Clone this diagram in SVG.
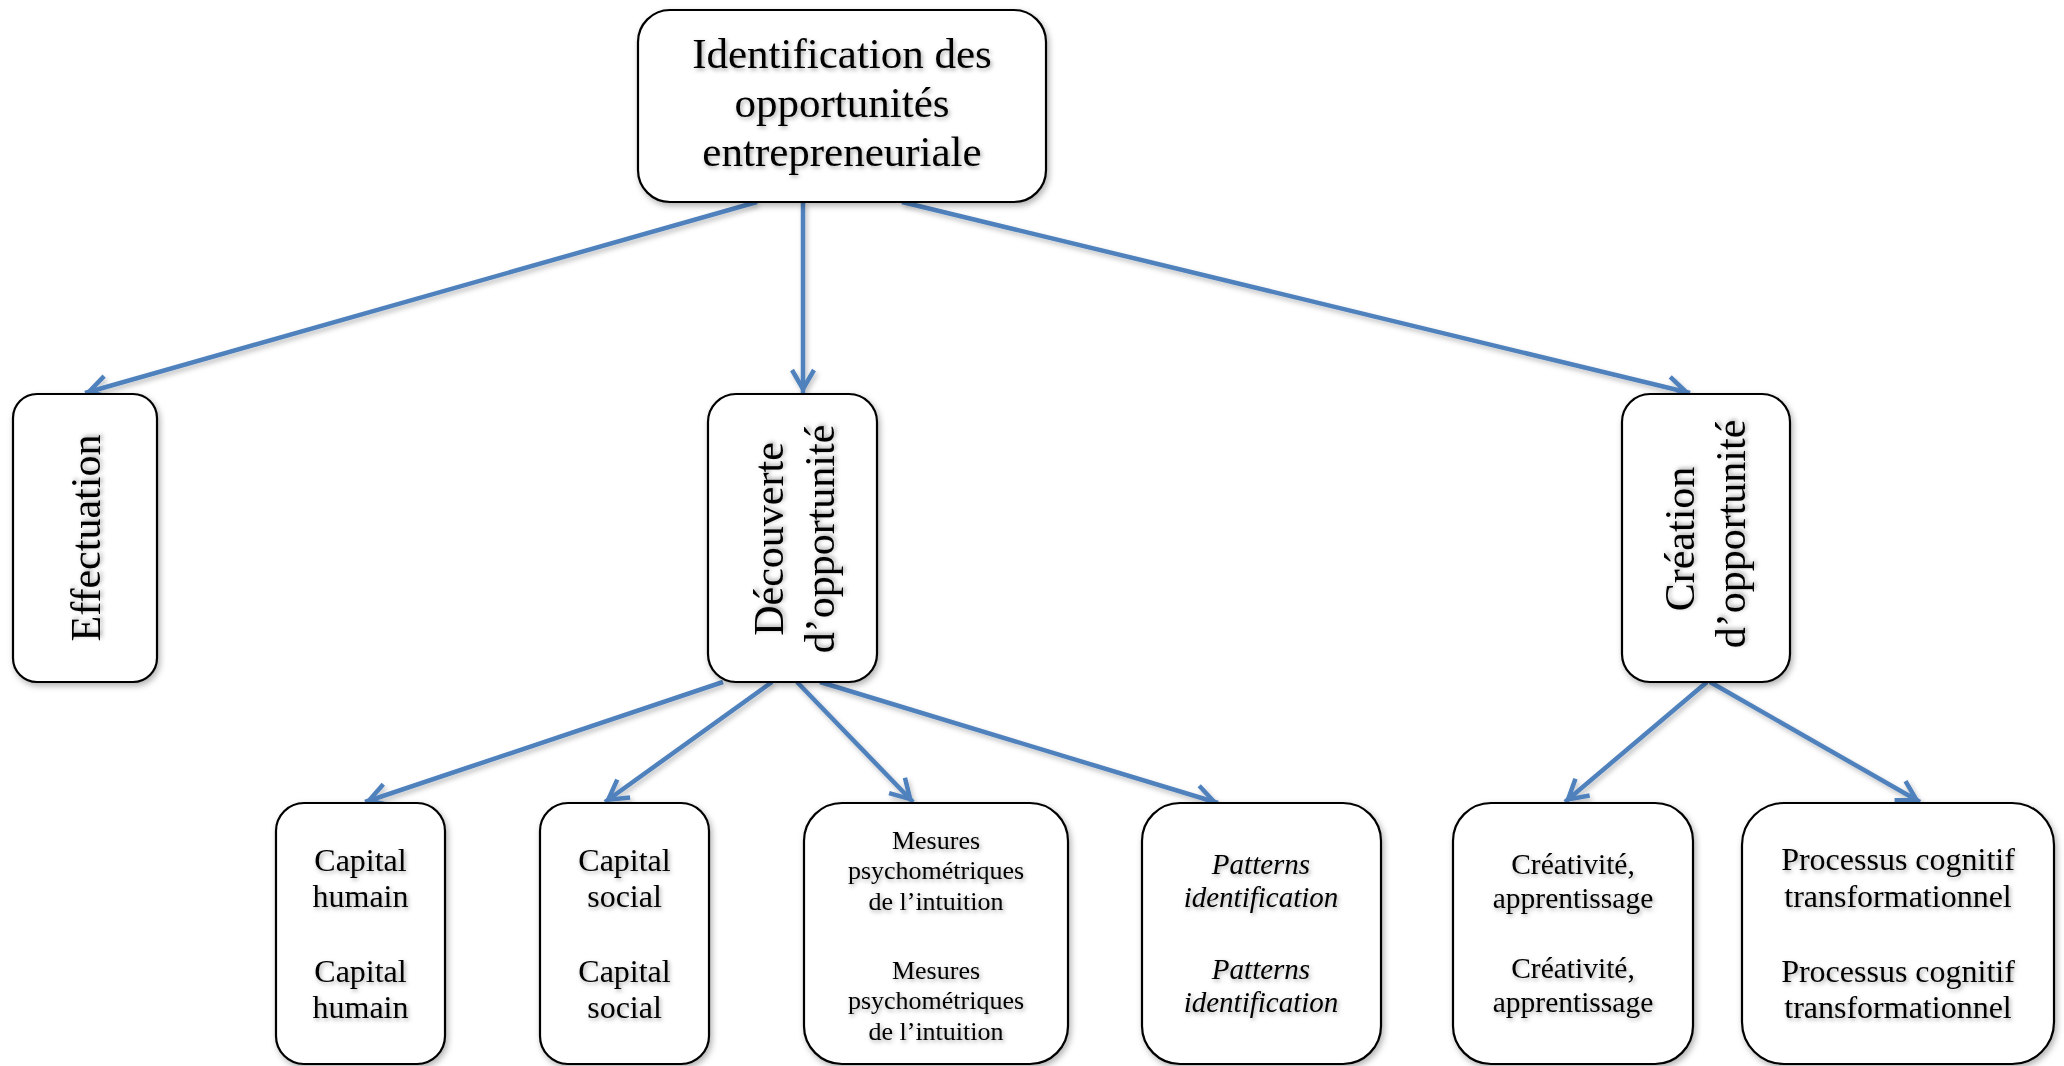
<svg xmlns="http://www.w3.org/2000/svg" width="2064" height="1066" viewBox="0 0 2064 1066">
<defs>
<filter id="sh" x="-10%" y="-10%" width="130%" height="130%">
<feDropShadow dx="2" dy="3" stdDeviation="3" flood-color="#000" flood-opacity="0.3"/>
</filter>
<filter id="lsh" filterUnits="userSpaceOnUse" x="0" y="0" width="2064" height="1066">
<feDropShadow dx="2" dy="3" stdDeviation="2.5" flood-color="#000" flood-opacity="0.25"/>
</filter>
<filter id="tsh" x="-10%" y="-20%" width="130%" height="160%">
<feDropShadow dx="1.5" dy="2" stdDeviation="2" flood-color="#000" flood-opacity="0.35"/>
</filter>
<marker id="ah" viewBox="-22 -14 28 28" refX="4" refY="0" markerWidth="28" markerHeight="28" markerUnits="userSpaceOnUse" orient="auto">
<path d="M-19,-11 L0,0 L-19,11" fill="none" stroke="#4F81BD" stroke-width="4.5" stroke-linejoin="miter"/>
</marker>
</defs>
<style>
.box{fill:#fff;stroke:#000;stroke-width:2.2;filter:url(#sh)}
.t{font-family:"Liberation Serif","Times New Roman",serif;fill:#000;text-anchor:middle;filter:url(#tsh)}
.big{font-size:43px}
.rot{font-size:42px}
.m{font-size:32px}
.s{font-size:26px}
.p{font-size:29px;font-style:italic}
.c{font-size:29.5px}
.cn{filter:url(#lsh)}
.cn line{stroke:#4F81BD;stroke-width:4.5;marker-end:url(#ah)}
</style>
<rect width="2064" height="1066" fill="#fff"/>
<g class="cn" id="connectors">
<line x1="757" y1="202" x2="85" y2="393"/>
<line x1="803" y1="202" x2="803" y2="393"/>
<line x1="902" y1="202" x2="1690" y2="393"/>
<line x1="723" y1="682" x2="365" y2="802"/>
<line x1="772" y1="682" x2="605" y2="802"/>
<line x1="797" y1="682" x2="913" y2="802"/>
<line x1="820" y1="682" x2="1218" y2="803"/>
<line x1="1707" y1="682" x2="1565" y2="802"/>
<line x1="1710" y1="682" x2="1920" y2="802"/>
</g>
<g id="root">
<rect class="box" x="638" y="10" width="408" height="192" rx="32"/>
<text class="t big" x="842" y="68">Identification des</text>
<text class="t big" x="842" y="117">opportunités</text>
<text class="t big" x="842" y="166">entrepreneuriale</text>
</g>
<g id="effectuation">
<rect class="box" x="13" y="394" width="144" height="288" rx="24"/>
<text class="t rot" transform="translate(100,538) rotate(-90)">Effectuation</text>
</g>
<g id="decouverte">
<rect class="box" x="708" y="394" width="169" height="288" rx="28"/>
<text class="t rot" transform="translate(783,539) rotate(-90)">Découverte</text>
<text class="t rot" transform="translate(834,539) rotate(-90)">d’opportunité</text>
</g>
<g id="creation">
<rect class="box" x="1622" y="394" width="168" height="288" rx="28"/>
<text class="t rot" transform="translate(1694,539) rotate(-90)">Création</text>
<text class="t rot" transform="translate(1745,534) rotate(-90)">d’opportunité</text>
</g>
<g id="capital-humain">
<rect class="box" x="276" y="803" width="169" height="261" rx="28"/>
<text class="t m" x="360.5" y="871">Capital</text>
<text class="t m" x="360.5" y="907">humain</text>
<text class="t m" x="360.5" y="982">Capital</text>
<text class="t m" x="360.5" y="1018">humain</text>
</g>
<g id="capital-social">
<rect class="box" x="540" y="803" width="169" height="261" rx="28"/>
<text class="t m" x="624.5" y="871">Capital</text>
<text class="t m" x="624.5" y="907">social</text>
<text class="t m" x="624.5" y="982">Capital</text>
<text class="t m" x="624.5" y="1018">social</text>
</g>
<g id="mesures">
<rect class="box" x="804" y="803" width="264" height="261" rx="38"/>
<text class="t s" x="936" y="849">Mesures</text>
<text class="t s" x="936" y="879">psychométriques</text>
<text class="t s" x="936" y="910">de l’intuition</text>
<text class="t s" x="936" y="979">Mesures</text>
<text class="t s" x="936" y="1009">psychométriques</text>
<text class="t s" x="936" y="1040">de l’intuition</text>
</g>
<g id="patterns">
<rect class="box" x="1142" y="803" width="239" height="261" rx="38"/>
<text class="t p" x="1261" y="874">Patterns</text>
<text class="t p" x="1261" y="907">identification</text>
<text class="t p" x="1261" y="979">Patterns</text>
<text class="t p" x="1261" y="1012">identification</text>
</g>
<g id="creativite">
<rect class="box" x="1453" y="803" width="240" height="261" rx="38"/>
<text class="t c" x="1573" y="874">Créativité,</text>
<text class="t c" x="1573" y="908">apprentissage</text>
<text class="t c" x="1573" y="978">Créativité,</text>
<text class="t c" x="1573" y="1012">apprentissage</text>
</g>
<g id="processus">
<rect class="box" x="1742" y="803" width="312" height="261" rx="42"/>
<text class="t m" x="1898" y="870">Processus cognitif</text>
<text class="t m" x="1898" y="907">transformationnel</text>
<text class="t m" x="1898" y="982">Processus cognitif</text>
<text class="t m" x="1898" y="1018">transformationnel</text>
</g>
</svg>
